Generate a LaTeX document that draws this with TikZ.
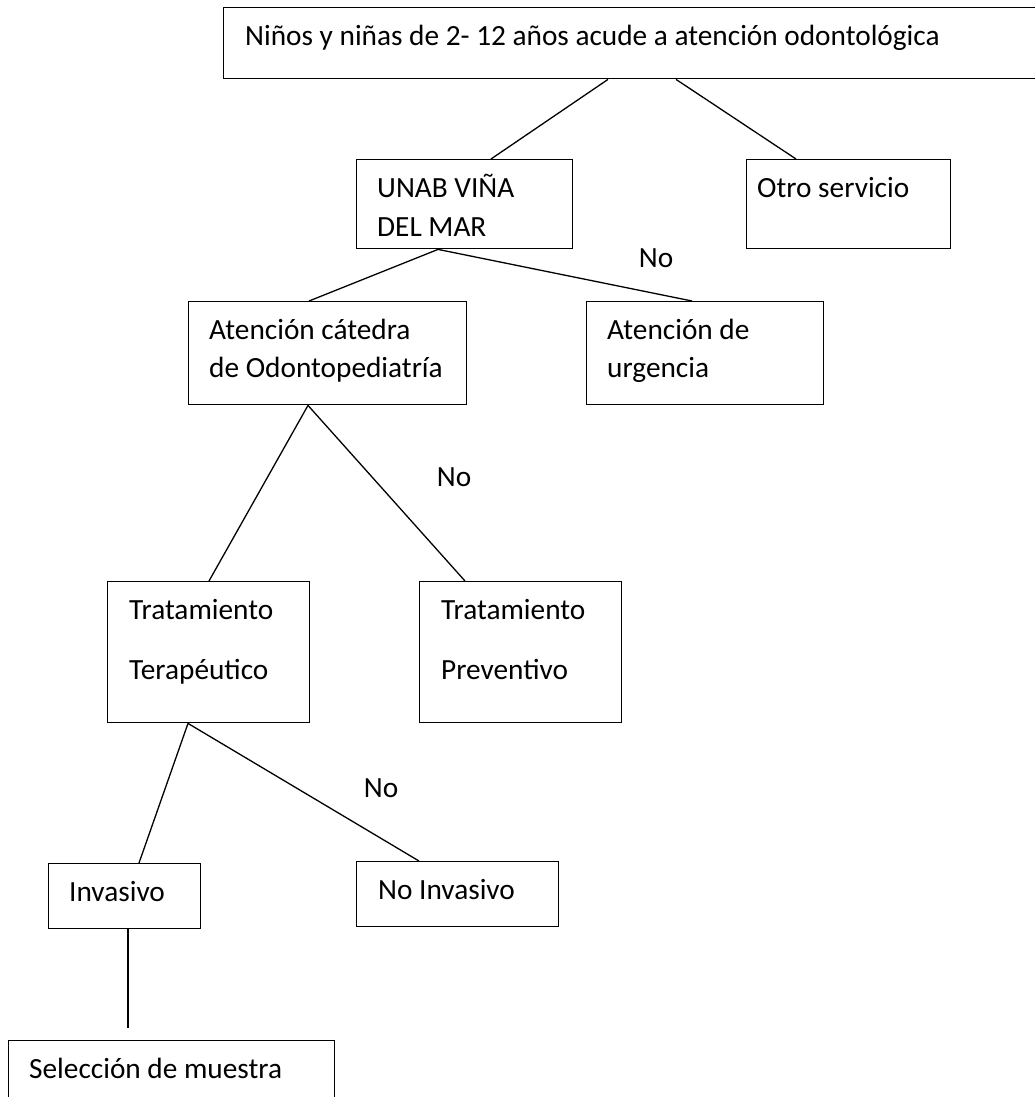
\documentclass[tikz,border=0pt]{standalone}
\usepackage{fontspec}
\setmainfont{Carlito}
\begin{document}
\begin{tikzpicture}[x=1pt,y=-1pt,
  box/.style={draw=black,line width=1.4pt,rectangle,inner sep=0pt,anchor=north west},
  txt/.style={inner sep=0pt,anchor=base west,font=\fontsize{29.3}{35}\selectfont},
  lbl/.style={inner sep=0pt,anchor=base,font=\fontsize{29.3}{35}\selectfont},
  con/.style={draw=black,line width=1.3pt}]
\useasboundingbox[fill=white] (0,0) rectangle (1034,1097);
% boxes
\node[box,minimum width=830pt,minimum height=71pt] (top) at (223,7) {};
\node[box,minimum width=216pt,minimum height=89pt] (unab) at (356,159) {};
\node[box,minimum width=204pt,minimum height=89pt] (otro) at (746,159) {};
\node[box,minimum width=278pt,minimum height=103pt] (aten) at (188,301) {};
\node[box,minimum width=237pt,minimum height=103pt] (urg) at (586,301) {};
\node[box,minimum width=202pt,minimum height=141pt] (terap) at (107,581) {};
\node[box,minimum width=202pt,minimum height=141pt] (prev) at (419,581) {};
\node[box,minimum width=152pt,minimum height=65pt] (inv) at (48,863) {};
\node[box,minimum width=202pt,minimum height=65pt] (noinv) at (356,861) {};
\node[box,minimum width=326pt,minimum height=80pt] (sel) at (8,1040) {};
% texts
\node[txt] (ttop) at (245,46) {Niños y niñas de 2- 12 años acude a atención odontológica};
\node[txt] (tunab1) at (377,197) {UNAB VIÑA};
\node[txt] (tunab2) at (377,236) {DEL MAR};
\node[txt] (totro) at (757,197) {Otro servicio};
\node[txt] (taten1) at (209,339) {Atención cátedra};
\node[txt] (taten2) at (209,377) {de Odontopediatría};
\node[txt] (turg1) at (607,339) {Atención de};
\node[txt] (turg2) at (607,377) {urgencia};
\node[txt] (tterap1) at (129,619) {Tratamiento};
\node[txt] (tterap2) at (129,679) {Terapéutico};
\node[txt] (tprev1) at (441,619) {Tratamiento};
\node[txt] (tprev2) at (441,679) {Preventivo};
\node[txt] (tinv) at (69,901) {Invasivo};
\node[txt] (tnoinv) at (378,899) {No Invasivo};
\node[txt] (tsel) at (29,1078) {Selección de muestra};
\node[lbl] (no1) at (656,267) {No};
\node[lbl] (no2) at (454,486) {No};
\node[lbl] (no3) at (381,797) {No};
% connectors
\draw[con] ([xshift=385pt]top.south west) -- ([xshift=135pt]unab.north west);
\draw[con] ([xshift=453pt]top.south west) -- ([xshift=50pt]otro.north west);
\draw[con] ([xshift=82pt]unab.south west) -- ([xshift=121pt]aten.north west);
\draw[con] ([xshift=82pt]unab.south west) -- ([xshift=106pt]urg.north west);
\draw[con] ([xshift=120pt]aten.south west) -- ([xshift=102pt]terap.north west);
\draw[con] ([xshift=120pt]aten.south west) -- ([xshift=46pt]prev.north west);
\draw[con] ([xshift=81pt]terap.south west) -- ([xshift=91pt]inv.north west);
\draw[con] ([xshift=81pt]terap.south west) -- ([xshift=63pt]noinv.north west);
\coordinate (selend) at (128,1028);
\draw[con] ([xshift=80pt]inv.south west) -- (selend);
\end{tikzpicture}
\end{document}
